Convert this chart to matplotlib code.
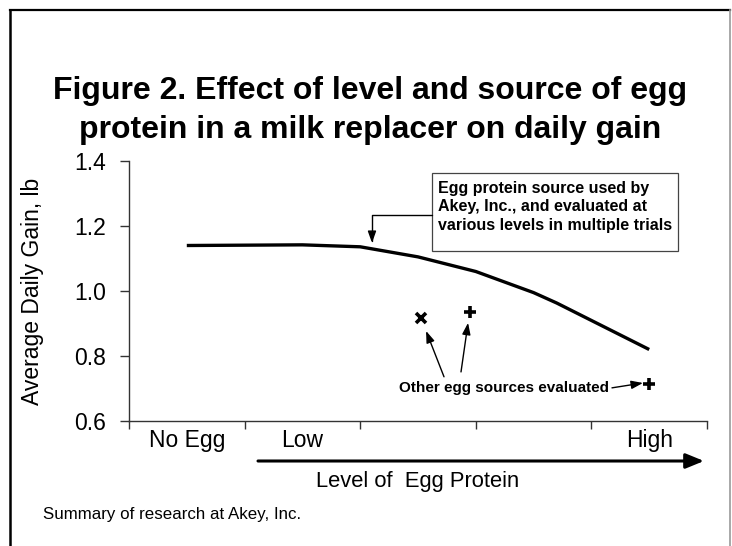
import matplotlib
matplotlib.use("Agg")
import matplotlib.pyplot as plt
from matplotlib.lines import Line2D
from matplotlib.patches import Rectangle, FancyArrowPatch

plt.rcParams['font.family'] = ['Liberation Sans', 'DejaVu Sans']

# ---- data ----
categories = ["No Egg", "Low", "", "", "High"]
akey_x = [0, 1, 1.5, 2, 2.5, 3, 3.2, 4]
akey_y = [1.14, 1.142, 1.136, 1.105, 1.06, 0.995, 0.963, 0.82]
other_x_marker = [2.03]
other_x_value = [0.918]
other_plus_x = [2.45, 4.0]
other_plus_value = [0.936, 0.714]
yticks = [0.6, 0.8, 1.0, 1.2, 1.4]

W, H = 732, 546
fig = plt.figure(figsize=(W / 100, H / 100), dpi=100)

def fx(px):
    return px / W

def fy(py):
    return 1 - py / H

ax = fig.add_axes([fx(129), fy(421), fx(707) - fx(129), fy(161) - fy(421)])

ax.plot(akey_x, akey_y, color='black', lw=2.4, solid_capstyle='butt')
ax.plot(other_x_marker, other_x_value, linestyle='none', marker='x',
        ms=6.5, mew=2.6, color='black')
ax.plot(other_plus_x, other_plus_value, linestyle='none', marker='+',
        ms=9, mew=2.6, color='black')

ax.set_xlim(-0.5, len(categories) - 0.5)
ax.set_ylim(0.6, 1.4)
ax.set_yticks(yticks)
ax.set_yticklabels([f"{v:.1f}" for v in yticks], fontsize=16.5)
ax.set_xticks([i - 0.5 for i in range(len(categories) + 1)])
ax.set_xticklabels([])
ax.set_xticks(range(len(categories)), minor=True)
ax.set_xticklabels(categories, minor=True, fontsize=16.5)
ax.tick_params(axis='x', which='minor', length=0, pad=6)
ax.tick_params(axis='x', which='major', direction='out', length=6, width=1, color='#333333')
ax.tick_params(axis='y', direction='out', length=6.5, width=1, color='#333333', pad=10)
for s in ['top', 'right']:
    ax.spines[s].set_visible(False)
for s in ['left', 'bottom']:
    ax.spines[s].set_color('#333333')
    ax.spines[s].set_linewidth(1)

ax.set_ylabel("Average Daily Gain, lb", fontsize=16.5, labelpad=22)

# annotation box for Akey source
ax.add_patch(Rectangle((2.121, 1.123), 4.249 - 2.121, 1.363 - 1.123,
                       fc='white', ec='#444444', lw=0.9, zorder=3))
ax.text(2.173, 1.259,
        "Egg protein source used by\nAkey, Inc., and evaluated at\nvarious levels in multiple trials",
        ha='left', va='center', fontsize=11.5, fontweight='bold', linespacing=1.28,
        zorder=4)
arrow_kw = dict(arrowstyle='-|>,head_length=0.7,head_width=0.25', color='black', lw=1.0,
                shrinkA=0, shrinkB=0)
ax.annotate("", xy=(1.602, 1.148), xytext=(2.121, 1.234),
            arrowprops=dict(connectionstyle='angle,angleA=0,angleB=90,rad=0', **arrow_kw))

# other sources
ax.text(2.748, 0.702, "Other egg sources evaluated", ha='center', va='center',
        fontsize=11, fontweight='bold')
ax.annotate("", xy=(2.07, 0.877), xytext=(2.225, 0.736), arrowprops=arrow_kw)
ax.annotate("", xy=(2.433, 0.902), xytext=(2.372, 0.751), arrowprops=arrow_kw)
ax.annotate("", xy=(3.946, 0.717), xytext=(3.678, 0.702), arrowprops=arrow_kw)

# bottom level arrow
fig.add_artist(FancyArrowPatch(
    (fx(258), fy(461)), (fx(704), fy(461)), transform=fig.transFigure,
    arrowstyle='-|>,head_length=1.1,head_width=0.45', mutation_scale=10,
    color='black', lw=2.2, shrinkA=0, shrinkB=0))

fig.text(fx(418), fy(481), "Level of  Egg Protein", ha='center', va='center', fontsize=15.8)
fig.text(fx(43), fy(515), "Summary of research at Akey, Inc.", ha='left', va='center', fontsize=12.2)

fig.text(fx(370), fy(110.5),
         "Figure 2. Effect of level and source of egg\nprotein in a milk replacer on daily gain",
         ha='center', va='center', fontsize=23, fontweight='bold', linespacing=1.35)

# frame
fig.add_artist(Line2D([fx(10), fx(730)], [fy(10), fy(10)], color='black', lw=1.6,
                      transform=fig.transFigure))
fig.add_artist(Line2D([fx(10), fx(10)], [fy(10), fy(546)], color='black', lw=1.8,
                      transform=fig.transFigure))
fig.add_artist(Line2D([fx(730), fx(730)], [fy(10), fy(546)], color='#999999', lw=1.2,
                      transform=fig.transFigure))

fig.savefig("out.png", dpi=100, facecolor='white')
